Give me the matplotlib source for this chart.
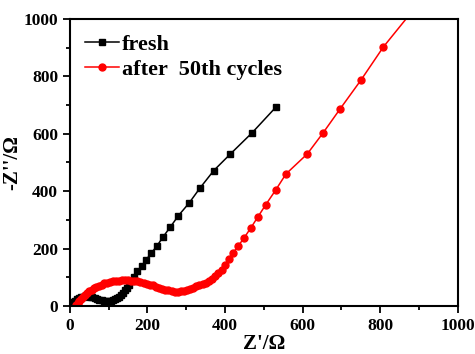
import numpy as np
import matplotlib.pyplot as plt
from matplotlib.ticker import MultipleLocator

# Dati (Nyquist)
fresh_x = [2, 5, 9, 13, 18, 23, 28, 34, 40, 46, 52, 58, 64, 70, 76, 82, 88, 94, 100,
           106, 112, 117, 122, 127, 132, 137, 142, 147, 152, 157, 165, 174, 185, 196,
           210, 225, 240, 259, 280, 307, 336, 371, 414, 470, 531]
fresh_y = [2, 6, 12, 18, 23, 27, 30, 32, 33, 33, 32, 30, 27, 24, 21, 19, 18, 17, 17,
           18, 20, 23, 27, 32, 38, 45, 54, 63, 73, 87, 102, 120, 139, 160,
           184, 210, 240, 275, 315, 358, 412, 472, 530, 604, 693]

after_x = [17, 20, 24, 28, 33, 38, 44, 50, 56, 62, 68, 75, 82, 89, 96, 103, 110, 118,
           126, 134, 142, 150, 158, 166, 174, 182, 190, 198, 206, 214, 222, 230, 238,
           246, 254, 262, 270, 278, 286, 294, 302, 310, 318, 326, 334, 342, 350, 358,
           366, 374, 382, 391, 399, 410, 421, 434, 449, 466, 484, 505, 530, 557, 612,
           653, 696, 750, 808, 875]
after_y = [3, 10, 17, 24, 31, 38, 45, 51, 56, 61, 66, 70, 74, 78, 81, 83, 85, 87,
           88, 89, 89, 89, 88, 87, 85, 83, 80, 77, 74, 71, 67, 63, 60,
           57, 54, 52, 50, 50, 51, 53, 56, 60, 64, 68, 72, 76, 81, 87,
           94, 103, 113, 125, 143, 163, 185, 209, 237, 271, 309, 353, 403, 460, 530,
           604, 686, 787, 903, 1015]

plt.rcParams['font.family'] = ['Liberation Serif', 'DejaVu Serif']
plt.rcParams['font.weight'] = 'bold'

fig = plt.figure(figsize=(4.75, 3.54), dpi=100)
ax = fig.add_axes([0.147, 0.136, 0.817, 0.81])

ax.plot(fresh_x, fresh_y, color='black', marker='s', markersize=4.5, linewidth=1.1,
        label='fresh')
ax.plot(after_x, after_y, color='#ff0000', marker='o', markersize=5, linewidth=1.1,
        label='after  50th cycles')

ax.set_xlim(0, 1000)
ax.set_ylim(0, 1000)
ax.xaxis.set_major_locator(MultipleLocator(200))
ax.xaxis.set_minor_locator(MultipleLocator(100))
ax.yaxis.set_major_locator(MultipleLocator(200))
ax.yaxis.set_minor_locator(MultipleLocator(100))
ax.tick_params(which='both', direction='out', top=False, right=False,
               labelsize=12.5, width=1.3)
ax.tick_params(which='major', length=5)
ax.tick_params(which='minor', length=3)
for s in ax.spines.values():
    s.set_linewidth(1.5)

ax.set_xlabel("Z'/Ω", fontsize=15, fontweight='bold', labelpad=0)
ax.set_ylabel("-Z''/Ω", fontsize=15, fontweight='bold', labelpad=1)

ax.legend(loc='upper left', frameon=False, handlelength=1.5,
          handletextpad=0.15, labelspacing=0.2, borderaxespad=0.3,
          prop={'weight': 'bold', 'size': 16})

fig.savefig('out.png', dpi=100)
